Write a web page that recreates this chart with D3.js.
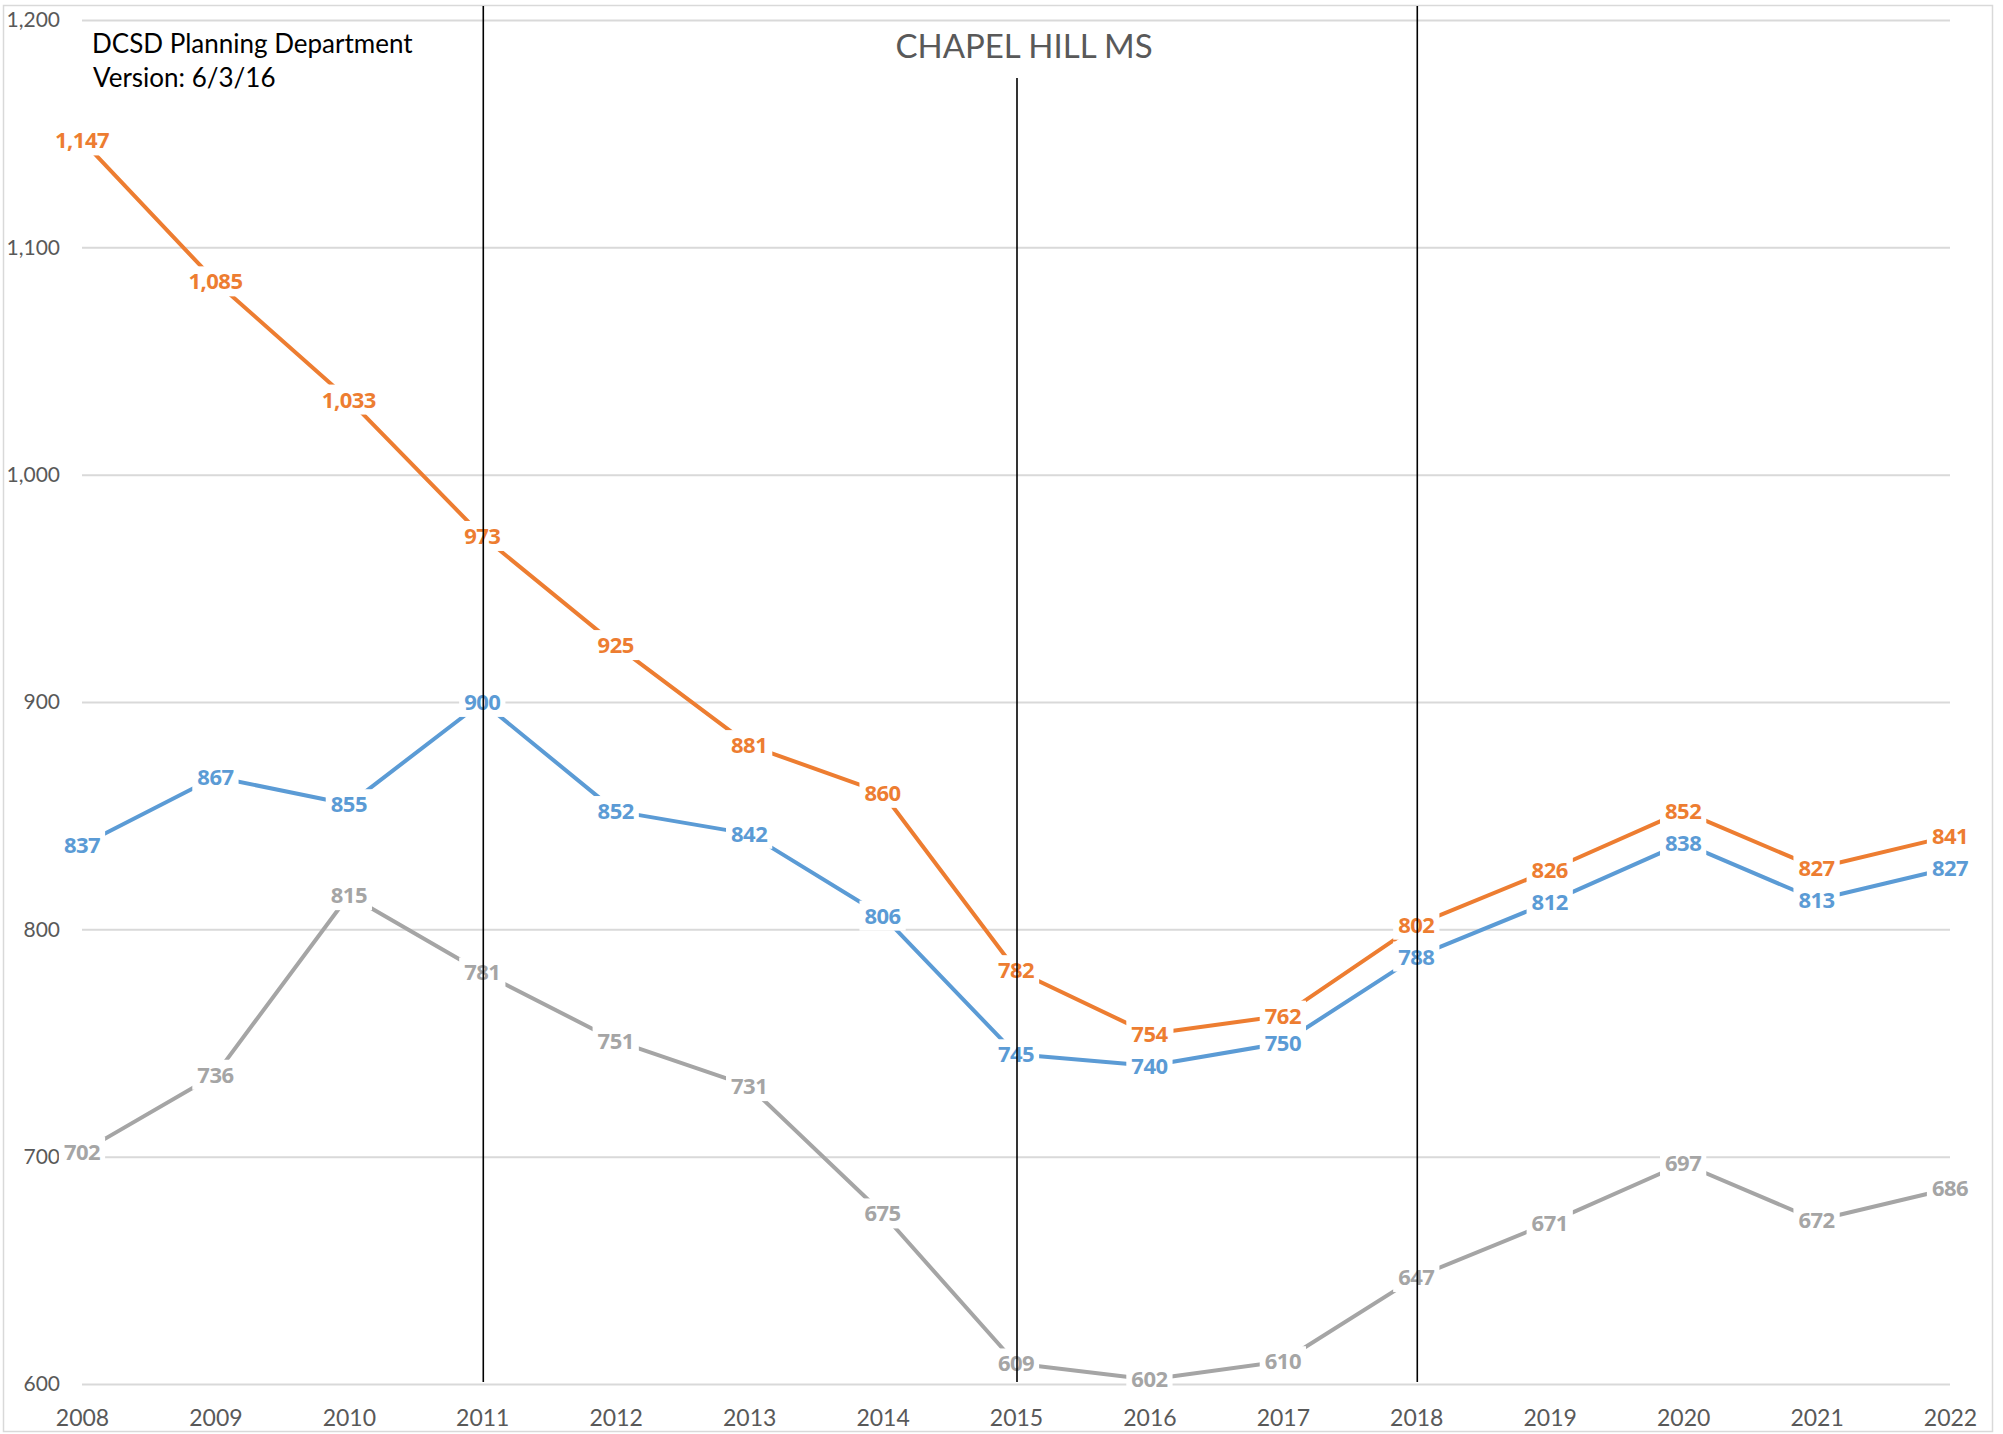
<!DOCTYPE html>
<html>
<head>
<meta charset="utf-8">
<script src="https://cdn.jsdelivr.net/npm/d3@7"></script>
<style>
  html, body { margin: 0; padding: 0; background: #fff; }
  svg { display: block; font-family: Lato, "Open Sans", sans-serif; }
</style>
</head>
<body>
<div id="chart"></div>
<script>
// Enrollment data
const years = [2008, 2009, 2010, 2011, 2012, 2013, 2014, 2015, 2016, 2017, 2018, 2019, 2020, 2021, 2022];
const orangeValues = [1147, 1085, 1033, 973, 925, 881, 860, 782, 754, 762, 802, 826, 852, 827, 841];
const blueValues = [837, 867, 855, 900, 852, 842, 806, 745, 740, 750, 788, 812, 838, 813, 827];
const grayValues = [702, 736, 815, 781, 751, 731, 675, 609, 602, 610, 647, 671, 697, 672, 686];
const yTicks = [600, 700, 800, 900, 1000, 1100, 1200];
const markerYears = [2011, 2015, 2018];
const chartTitle = 'CHAPEL HILL MS';
const noteLines = ['DCSD Planning Department', 'Version: 6/3/16'];

const series = [
  { values: orangeValues, color: '#ED7D31' },
  { values: blueValues, color: '#5B9BD5' },
  { values: grayValues, color: '#A5A5A5' }
];

const svgWidth = 2003;
const svgHeight = 1434;
const plot = { left: 82, right: 1950, top: 20, bottom: 1384 };

const svg = d3.select('#chart')
  .append('svg')
  .attr('width', svgWidth)
  .attr('height', svgHeight);

// Outer chart border
svg.append('rect')
  .attr('x', 3.5).attr('y', 5.5)
  .attr('width', 1989).attr('height', 1426)
  .attr('fill', '#fff')
  .attr('stroke', '#d9d9d9')
  .attr('stroke-width', 1.5);

const xScale = d3.scalePoint().domain(years).range([plot.left, plot.right]);
const yScale = d3.scaleLinear().domain([600, 1200]).range([plot.bottom, plot.top]);

// Y axis with gridlines
const yAxis = svg.append('g')
  .attr('transform', 'translate(' + plot.left + ',0)')
  .call(d3.axisLeft(yScale)
    .tickValues(yTicks)
    .tickFormat(d3.format(','))
    .tickSizeInner(-(plot.right - plot.left))
    .tickSizeOuter(0)
    .tickPadding(22));
yAxis.select('.domain').remove();
yAxis.selectAll('line').attr('stroke', '#d9d9d9').attr('stroke-width', 2);
yAxis.selectAll('text')
  .attr('fill', '#595959')
  .style('font-size', '21px')
  .style('font-family', 'Lato, sans-serif');

// X axis labels
const xAxis = svg.append('g')
  .attr('transform', 'translate(0,' + plot.bottom + ')')
  .call(d3.axisBottom(xScale).tickSize(0).tickPadding(26));
xAxis.select('.domain').remove();
xAxis.selectAll('text')
  .attr('fill', '#595959')
  .style('font-size', '23px')
  .style('font-family', 'Lato, sans-serif');

// Lines
const line = d3.line()
  .x((d, i) => xScale(years[i]))
  .y(d => yScale(d));

series.forEach(s => {
  svg.append('path')
    .datum(s.values)
    .attr('d', line)
    .attr('fill', 'none')
    .attr('stroke', s.color)
    .attr('stroke-width', 4)
    .attr('stroke-linejoin', 'round');
});

// Data labels, centred on points with a white backing
series.forEach(s => {
  const g = svg.append('g');
  s.values.forEach((v, i) => {
    const t = g.append('text')
      .attr('x', xScale(years[i]))
      .attr('y', yScale(v))
      .attr('dy', '0.36em')
      .attr('text-anchor', 'middle')
      .attr('fill', s.color)
      .style('font-family', '"Open Sans", "Noto Sans", sans-serif')
      .style('font-size', '22px')
      .style('font-weight', '700')
      .style('letter-spacing', '-0.5px')
      .text(d3.format(',')(v));
    const bb = t.node().getBBox();
    g.insert('rect', () => t.node())
      .attr('x', bb.x - 5)
      .attr('y', bb.y + 1)
      .attr('width', bb.width + 10)
      .attr('height', bb.height)
      .attr('fill', '#fff');
  });
});

// Title and note
const title = svg.append('text')
  .attr('x', 1024)
  .attr('y', 58)
  .attr('text-anchor', 'middle')
  .attr('fill', '#595959')
  .style('font-size', '33px')
  .text(chartTitle);

svg.selectAll('.note')
  .data(noteLines)
  .enter().append('text')
  .attr('class', 'note')
  .attr('x', (d, i) => i === 0 ? 92 : 93)
  .attr('y', (d, i) => 53 + i * 34)
  .attr('fill', '#000')
  .style('font-size', '26px')
  .text(d => d);

// Vertical marker lines (drawn on top)
const titleBox = title.node().getBBox();
svg.selectAll('.marker')
  .data(markerYears)
  .enter().append('line')
  .attr('class', 'marker')
  .attr('x1', d => xScale(d) + 1)
  .attr('x2', d => xScale(d) + 1)
  .attr('y1', d => {
    const x = xScale(d);
    return (x > titleBox.x && x < titleBox.x + titleBox.width) ? 78 : 6;
  })
  .attr('y2', plot.bottom - 2)
  .attr('stroke', '#000')
  .attr('stroke-width', 1.6);
</script>
</body>
</html>
